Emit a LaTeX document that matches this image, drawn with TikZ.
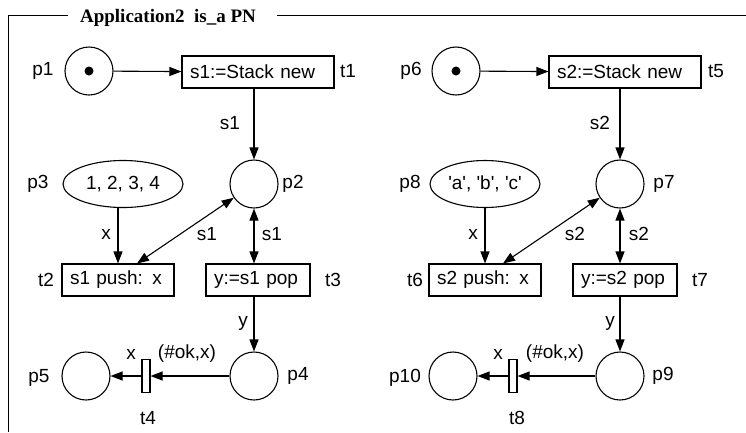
\documentclass[tikz,border=0pt]{standalone}
\usepackage{fontspec}
\setmainfont{Liberation Sans}
\newfontfamily\headfont{Liberation Serif}
\usetikzlibrary{arrows.meta,shapes.geometric}

\begin{document}
\begin{tikzpicture}[x=1pt,y=-1pt,
  font=\fontsize{19}{22}\selectfont,
  line width=1.1pt,
  >={Triangle[length=12pt,width=9pt]},
  place/.style={draw,circle,minimum size=48pt,inner sep=0pt},
  multiset/.style={draw,ellipse,minimum height=47pt,inner sep=0pt},
  trans/.style={draw,rectangle,minimum height=32pt,inner xsep=8pt,inner ysep=0pt,align=left},
  bar/.style={draw,rectangle,minimum width=8pt,minimum height=33pt,inner sep=0pt},
  token/.style={fill,circle,minimum size=9pt,inner sep=0pt},
  lbl/.style={inner sep=1pt},
  arc/.style={->},
  biarc/.style={<->}]

\useasboundingbox (0,0) rectangle (746,432);

% frame with title
\node[font=\headfont\bfseries\fontsize{19}{22}\selectfont] (title) at (168,18) {Application2\ \ is\_a PN};
\draw[line width=1pt] (68,15.5) -- (8,15.5) -- (8,432);
\draw[line width=1pt] (277,15.5) -- (746,15.5);

% ---------- first stack net ----------
\node[place] (p1) at (89,71) {};
\node[token] (k1) at (p1) {};
\node[lbl] (lp1) at (43,71) {p1};
\node[trans,text width=136pt] (t1) at (258,72) {s1:=Stack new};
\node[lbl] (lt1) at (348,71) {t1};
\node[place] (p2) at (254,184) {};
\node[lbl] (lp2) at (293,184) {p2};
\node[multiset,minimum width=120pt] (p3) at (123,184) {1, 2, 3, 4};
\node[lbl] (lp3) at (38,184) {p3};
\node[trans,text width=96pt] (t2) at (118,280) {s1 push: x};
\node[lbl] (lt2) at (46,280) {t2};
\node[trans,text width=88pt] (t3) at (258,280) {y:=s1 pop};
\node[lbl] (lt3) at (333,280) {t3};
\node[place] (p4) at (254,376) {};
\node[lbl] (lp4) at (298,376) {p4};
\node[bar] (t4) at (146,376) {};
\node[lbl] (lt4) at (148,418) {t4};
\node[place] (p5) at (86,376) {};
\node[lbl] (lp5) at (39,378) {p5};

\draw[arc] (p1) -- (t1);
\draw[arc] (t1.south -| p2.north) -- (p2.north);
\draw[arc] (t2.north |- p3.south) -- (t2.north);
\draw[biarc] ([xshift=19pt]t2.north) -- (p2);
\draw[biarc] (p2.south) -- (t3.north -| p2.south);
\draw[arc] (t3.south -| p4.north) -- (p4.north);
\draw[arc] (p4) -- (t4);
\draw[arc] (t4) -- (p5);

\node[lbl] (a1) at (230,123) {s1};
\node[lbl] (a2) at (106,234) {x};
\node[lbl] (a3) at (207,234) {s1};
\node[lbl] (a4) at (272,234) {s1};
\node[lbl] (a5) at (243,323) {y};
\node[lbl] (a6) at (187,354) {(\#ok,x)};
\node[lbl] (a7) at (131,354) {x};

% ---------- second stack net ----------
\node[place] (p6) at (456,71) {};
\node[token] (k6) at (p6) {};
\node[lbl] (lp6) at (411,71) {p6};
\node[trans,text width=136pt] (t5) at (625,72) {s2:=Stack new};
\node[lbl] (lt5) at (716,71) {t5};
\node[place] (p7) at (620,184) {};
\node[lbl] (lp7) at (664,184) {p7};
\node[multiset,minimum width=110pt] (p8) at (485,184)
  {\textquotesingle a\textquotesingle, \textquotesingle b\textquotesingle, \textquotesingle c\textquotesingle};
\node[lbl] (lp8) at (410,184) {p8};
\node[trans,text width=96pt] (t6) at (485,280) {s2 push: x};
\node[lbl] (lt6) at (415,280) {t6};
\node[trans,text width=88pt] (t7) at (625,280) {y:=s2 pop};
\node[lbl] (lt7) at (700,280) {t7};
\node[place] (p9) at (620,376) {};
\node[lbl] (lp9) at (663,376) {p9};
\node[bar] (t8) at (513,376) {};
\node[lbl] (lt8) at (517,418) {t8};
\node[place] (p10) at (453,376) {};
\node[lbl] (lp10) at (405,378) {p10};

\draw[arc] (p6) -- (t5);
\draw[arc] (t5.south -| p7.north) -- (p7.north);
\draw[arc] (t6.north |- p8.south) -- (t6.north);
\draw[biarc] ([xshift=18pt]t6.north) -- (p7);
\draw[biarc] (p7.south) -- (t7.north -| p7.south);
\draw[arc] (t7.south -| p9.north) -- (p9.north);
\draw[arc] (p9) -- (t8);
\draw[arc] (t8) -- (p10);

\node[lbl] (b1) at (600,123) {s2};
\node[lbl] (b2) at (473,234) {x};
\node[lbl] (b3) at (575,234) {s2};
\node[lbl] (b4) at (639,234) {s2};
\node[lbl] (b5) at (610,323) {y};
\node[lbl] (b6) at (555,354) {(\#ok,x)};
\node[lbl] (b7) at (498,354) {x};
\end{tikzpicture}
\end{document}
